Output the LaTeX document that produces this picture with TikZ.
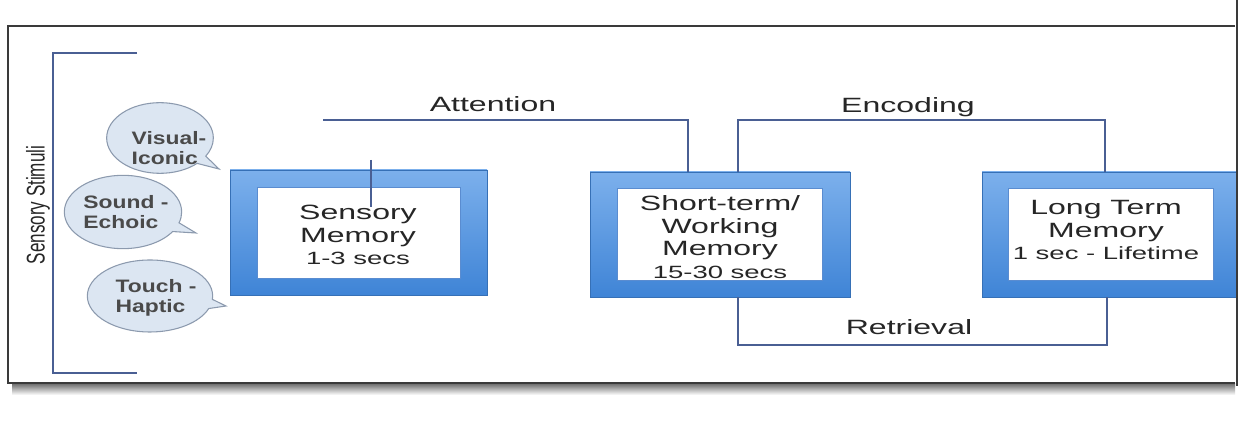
\documentclass[tikz,border=0pt]{standalone}
\usepackage{fontspec}
\setmainfont{Liberation Sans}
\usetikzlibrary{shapes.callouts}
\definecolor{linec}{HTML}{4A5F93}
\definecolor{framec}{HTML}{3A3A3A}
\definecolor{bubfill}{HTML}{DCE6F2}
\definecolor{bubdraw}{HTML}{8C9AAE}
\definecolor{blueTop}{HTML}{7CB0EC}
\definecolor{blueBot}{HTML}{3F84D6}
\definecolor{innerdraw}{HTML}{5A8CD0}
\definecolor{textc}{HTML}{262626}
\definecolor{bubtextc}{HTML}{4A4A4A}
\tikzset{
  conn/.style={draw=linec, line width=1.5pt},
  outerbox/.style={rectangle, draw=blueBot!85!black, line width=0.6pt, top color=blueTop, bottom color=blueBot, inner sep=0pt},
  innerbox/.style={rectangle, draw=innerdraw, line width=0.6pt, fill=white, inner sep=0pt},
  boxtext/.style={font=\fontsize{15.5}{16.9}\selectfont, text=textc, align=center, xscale=1.55, transform shape, inner sep=0pt},
  lbl/.style={font=\fontsize{15.5}{17}\selectfont, text=textc, xscale=1.55, transform shape, inner sep=0pt, anchor=base},
  bubble/.style={ellipse callout, draw=bubdraw, line width=0.8pt, fill=bubfill, inner sep=0pt},
  bubtext/.style={font=\bfseries\fontsize{13.5}{14.8}\selectfont, text=bubtextc, align=left, xscale=1.27, transform shape, inner sep=0pt},
}
\newcommand{\dur}[1]{{\fontsize{13.3}{16.9}\selectfont #1}}
\begin{document}
\begin{tikzpicture}[x=0.75pt, y=-0.75pt]
\useasboundingbox (0,0) rectangle (1238,423);
\fill[white] (0,0) rectangle (1238,423);
% outer frame and shadow
\shade[top color=black!55, bottom color=white] (12,384) rectangle (1235,395);
\draw[framec, line width=1.1pt] (1235,26) -- (8,26) -- (8,383) -- (1235,383);
% bracket
\draw[linec, line width=1.5pt] (137,53) -- (53,53) -- (53,373) -- (137,373);
\node[rotate=90, font=\fontsize{12.8}{14}\selectfont, text=textc, inner sep=0pt] (stim) at (38,205) {\scalebox{1}[1.5]{Sensory Stimuli}};
% bubbles
\node[bubble, minimum width=80pt, minimum height=53pt, callout absolute pointer={(219,169)}] (vis) at (160,138) {};
\node[bubble, minimum width=88pt, minimum height=55pt, callout absolute pointer={(196,233)}] (snd) at (123,212) {};
\node[bubble, minimum width=94pt, minimum height=54pt, callout absolute pointer={(226,306)}] (tch) at (150,296) {};
\node[bubtext] (vist) at (169,148) {Visual-\\Iconic};
\node[bubtext] (sndt) at (126,212) {Sound -\\Echoic};
\node[bubtext] (tcht) at (156,298) {Touch -\\Haptic};
% memory boxes
\node[outerbox, minimum width=192.75pt, minimum height=93.75pt] (sm) at (358.5,232.5) {};
\node[innerbox, minimum width=152.25pt, minimum height=68.25pt] (smi) at (358.5,232.5) {};
\node[outerbox, minimum width=195pt, minimum height=93.75pt] (stm) at (720,234.5) {};
\node[innerbox, minimum width=153.75pt, minimum height=69pt] (stmi) at (719.5,234) {};
\node[outerbox, minimum width=192pt, minimum height=93.75pt] (ltm) at (1110,234.5) {};
\node[innerbox, minimum width=153.75pt, minimum height=69pt] (ltmi) at (1110.5,234) {};
\node[boxtext] (smt) at (358,235) {Sensory\\Memory\\\dur{1-3 secs}};
\node[boxtext] (stmt) at (720,237) {Short-term/\\Working\\Memory\\\dur{15-30 secs}};
\node[boxtext] (ltmt) at (1106,230) {Long Term\\Memory\\\dur{1 sec - Lifetime}};
% connectors
\coordinate (att0) at (323,120);
\coordinate (att1) at (688,120);
\coordinate (enc0) at (738,120);
\coordinate (enc1) at (1105,120);
\coordinate (ret0) at (738,345);
\coordinate (ret1) at (1107,345);
\coordinate (tick0) at (371,160);
\coordinate (tick1) at (371,207);
\draw[conn] (att0) -- (att1) -- (att1 |- stm.north);
\draw[conn] (enc0 |- stm.north) -- (enc0) -- (enc1) -- (enc1 |- ltm.north);
\draw[conn] (ret0 |- stm.south) -- (ret0) -- (ret1) -- (ret1 |- ltm.south);
\draw[conn] (tick0) -- (tick1);
\node[lbl] (attl) at (493,112) {Attention};
\node[lbl] (encl) at (908,113) {Encoding};
\node[lbl] (retl) at (909,335) {Retrieval};
% right edge line
\draw[framec, line width=1.3pt] (1237,0) -- (1237,386);
\end{tikzpicture}
\end{document}
